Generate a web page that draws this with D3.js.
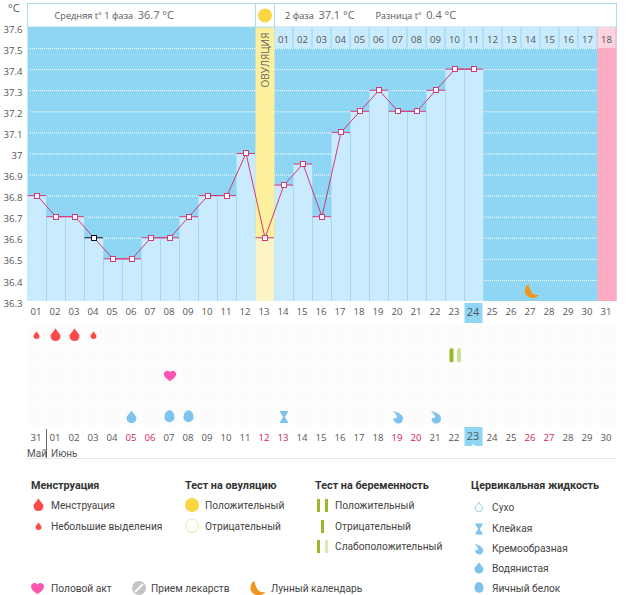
<!DOCTYPE html>
<html>
<head>
<meta charset="utf-8">
<script src="https://d3js.org/d3.v7.min.js"></script>
<style>
  body { margin: 0; background: #fff; }
  svg { display: block; }
  text { font-family: "Open Sans", sans-serif; }
  .lbl { font-size: 9.6px; fill: #555; }
  .lg { font-family: Roboto, sans-serif; font-size: 10.2px; fill: #444; }
  .lgt { font-family: Roboto, sans-serif; font-size: 10.8px; font-weight: 700; fill: #333; }
</style>
</head>
<body>
<svg id="chart" width="626" height="595"></svg>
<script>
// chart data
var cycleDays = d3.range(1, 32);
var temps = [36.8, 36.7, 36.7, 36.6, 36.5, 36.5, 36.6, 36.6, 36.7, 36.8, 36.8, 37.0, 36.6, 36.85, 36.95, 36.7, 37.1, 37.2, 37.3, 37.2, 37.2, 37.3, 37.4, 37.4];
var tempTicks = [37.6, 37.5, 37.4, 37.3, 37.2, 37.1, 37, 36.9, 36.8, 36.7, 36.6, 36.5, 36.4, 36.3];
var calendarDays = ["31", "01", "02", "03", "04", "05", "06", "07", "08", "09", "10", "11", "12", "13", "14", "15", "16", "17", "18", "19", "20", "21", "22", "23", "24", "25", "26", "27", "28", "29", "30"];
var weekendDays = ["05", "06", "12", "13", "19", "20", "26", "27"];
var phase2Days = ["01", "02", "03", "04", "05", "06", "07", "08", "09", "10", "11", "12", "13", "14", "15", "16", "17", "18"];
var ovulationDay = 13, lastCycleDay = 31, currentDay = 24, moonDay = 27, selectedDay = 4;
var heavyDays = [2, 3], spottingDays = [1, 4], sexDays = [8];
var wateryDays = [6], eggWhiteDays = [8, 9], stickyDays = [14], creamyDays = [20, 22];
var weakPregTestDays = [23];

var svg = d3.select("#chart");

var x = d3.scaleBand().domain(cycleDays).range([27.5, 616.5]);
var y = d3.scaleLinear().domain([36.3, 37.6]).range([301, 27]);
var bw = x.bandwidth();
var cx = function(d){ return x(d) + bw / 2; };

/////////////// icons ///////////////
function dropPath(r) {
    return "M0," + (-r * 1.55) + "C" + (r * 0.35) + "," + (-r * 0.8) + " " + r + "," + (-r * 0.45) + " " + r + ",0.1" +
        "A" + r + "," + r + " 0 1 1 " + (-r) + ",0.1C" + (-r) + "," + (-r * 0.45) + " " + (-r * 0.35) + "," + (-r * 0.8) + " 0," + (-r * 1.55) + "Z";
}
function eggPath(r) {
    return "M0," + (-r * 1.35) + "C" + (r * 0.7) + "," + (-r * 1.35) + " " + r + "," + (-r * 0.5) + " " + r + ",0.2" +
        "A" + r + "," + r + " 0 1 1 " + (-r) + ",0.2C" + (-r) + "," + (-r * 0.5) + " " + (-r * 0.7) + "," + (-r * 1.35) + " 0," + (-r * 1.35) + "Z";
}
var heartPath = "M0,6C-3,4 -6.5,1.5 -6.5,-1.5C-6.5,-5 -2,-6.5 0,-3.5C2,-6.5 6.5,-5 6.5,-1.5C6.5,1.5 3,4 0,6Z";
var stickyPath = "M-4,-6H4V-5L0.8,0L4,5V6H-4V5L-0.8,0L-4,-5Z";
var creamyPath = "M-5,-6C-1,-5 5,-3 5,1.5A4.7,4.7 0 1 1 -4.2,0.5C-2.5,2 -0.5,1 -1,-0.5C-1.5,-2.5 -3.5,-4 -5,-6Z";
var moonPath = "M-3,-7.5C-8,-4 -8,3 -3,5.5C1,7.5 5,6.5 7.5,3.5C4,4 1,3 -0.5,0C-2,-3 -2.5,-5 -3,-7.5Z";

function icon(path, px, py, fill, scale) {
    return svg.append("path").attr("d", path)
        .attr("transform", "translate(" + px + "," + py + ") scale(" + (scale || 1) + ")")
        .attr("fill", fill);
}

/////////////// plot background ///////////////
svg.append("rect").attr("x", 27.5).attr("y", 27).attr("width", 589).attr("height", 274).attr("fill", "#8fd6f5");

var gridLines = tempTicks.filter(function(t){ return t < 37.6 && t > 36.3; });
svg.append("g").selectAll("line").data(gridLines).enter().append("line")
    .attr("x1", 30).attr("x2", 616)
    .attr("y1", function(d){ return y(d) + 0.5; }).attr("y2", function(d){ return y(d) + 0.5; })
    .attr("stroke", "#fff").attr("stroke-dasharray", "1,1");

// bars under the temperature line
var barDays = temps.map(function(t, i){ return {day: i + 1, t: t}; });
svg.append("g").selectAll("rect").data(barDays).enter().append("rect")
    .attr("x", function(d){ return x(d.day); })
    .attr("y", function(d){ return y(d.t); })
    .attr("width", bw)
    .attr("height", function(d){ return y(36.3) - y(d.t); })
    .attr("fill", function(d){ return d.day == ovulationDay ? "#fdf4c6" : "#c9ebfd"; });

// ovulation + last day strips
svg.append("rect").attr("x", x(ovulationDay)).attr("y", 27).attr("width", bw).attr("height", y(temps[ovulationDay - 1]) - 27).attr("fill", "#fdf09c");
svg.append("rect").attr("x", x(lastCycleDay)).attr("y", 27).attr("width", bw).attr("height", 274).attr("fill", "#fdabc2");

// faint grid on the bars
svg.append("g").selectAll("line").data(gridLines).enter().append("line")
    .attr("x1", 30).attr("x2", x(lastCycleDay))
    .attr("y1", function(d){ return y(d) + 0.5; }).attr("y2", function(d){ return y(d) + 0.5; })
    .attr("stroke", "#fff").attr("stroke-opacity", 0.15).attr("stroke-dasharray", "1,1");

// column separators
svg.append("g").selectAll("line").data(barDays.filter(function(d){ return d.day != ovulationDay - 1 && d.day != ovulationDay; })).enter().append("line")
    .attr("x1", function(d){ return Math.round(x(d.day) + bw) - 0.5; })
    .attr("x2", function(d){ return Math.round(x(d.day) + bw) - 0.5; })
    .attr("y1", function(d){ return y(d.t); }).attr("y2", 301)
    .attr("stroke", "#a0d8f0");

/////////////// header ///////////////
svg.append("rect").attr("x", 27.5).attr("y", 3.5).attr("width", 589).attr("height", 23.5).attr("fill", "#fff").attr("stroke", "#a9dcee");
svg.append("line").attr("x1", x(ovulationDay)).attr("x2", x(ovulationDay)).attr("y1", 3.5).attr("y2", 27).attr("stroke", "#a9dcee");
svg.append("line").attr("x1", x(ovulationDay) + bw).attr("x2", x(ovulationDay) + bw).attr("y1", 3.5).attr("y2", 27).attr("stroke", "#a9dcee");
svg.append("circle").attr("cx", cx(ovulationDay)).attr("cy", 15.5).attr("r", 7).attr("fill", "#fcd543");

var headerDays = cycleDays.slice(ovulationDay);
svg.append("g").selectAll("rect").data(headerDays).enter().append("rect")
    .attr("x", function(d){ return x(d); }).attr("y", 27)
    .attr("width", bw - 1).attr("height", 21)
    .attr("fill", function(d){ return d == lastCycleDay ? "#fcd3de" : "#c9ebfd"; });
svg.append("g").selectAll("text").data(phase2Days).enter().append("text")
    .attr("class", "lbl")
    .attr("x", function(d, i){ return cx(headerDays[i]) - 0.5; }).attr("y", 43)
    .attr("text-anchor", "middle").text(function(d){ return d; });

svg.append("text").attr("transform", "translate(" + (cx(ovulationDay) + 3.5) + ",60) rotate(-90)")
    .attr("text-anchor", "middle").attr("font-size", 10).attr("fill", "#666").text("ОВУЛЯЦИЯ");

function headerText(px, label, value, size) {
    var t = svg.append("text").attr("x", px).attr("y", 19).attr("fill", "#555").attr("font-size", size);
    t.append("tspan").text(label);
    t.append("tspan").attr("dx", 4.5).attr("font-size", 11).attr("fill", "#666").text(value);
}
headerText(54.5, "Средняя t° 1 фаза", "36.7 °C", 9.2);
headerText(285, "2 фаза", "37.1 °C", 9.2);
headerText(375.5, "Разница t°", "0.4 °C", 9);

/////////////// axes ///////////////
var yAxis = d3.axisLeft(y).tickValues(tempTicks).tickSize(0).tickPadding(0).tickFormat(function(d){ return String(d); });
var yg = svg.append("g").attr("transform", "translate(22.5,2)").call(yAxis);
yg.select(".domain").remove();
yg.selectAll("text").attr("class", "lbl").style("font-family", "Open Sans");
svg.append("text").attr("x", 8).attr("y", 12).attr("font-size", 11).attr("fill", "#555").text("°C");

var xAxis = d3.axisBottom(x).tickSize(0).tickPadding(0).tickFormat(function(d){ return d3.format("02")(d); });
svg.append("rect").attr("x", x(currentDay)).attr("y", 303).attr("width", bw - 1).attr("height", 20).attr("fill", "#8fd6f5");
var xg = svg.append("g").attr("transform", "translate(-1,308)").call(xAxis);
xg.select(".domain").remove();
xg.selectAll("text").attr("class", "lbl").style("font-family", "Open Sans")
    .style("font-size", function(d){ return d == currentDay ? "11px" : null; });

/////////////// temperature line ///////////////
svg.append("g").selectAll("line").data(barDays).enter().append("line")
    .attr("x1", function(d){ return x(d.day); })
    .attr("x2", function(d){ return x(d.day) + bw - 0.5; })
    .attr("y1", function(d){ return y(d.t); }).attr("y2", function(d){ return y(d.t); })
    .attr("stroke", function(d){ return d.day == selectedDay ? "#111" : "#d13a78"; });

var tempLine = d3.line().x(function(d){ return cx(d.day); }).y(function(d){ return y(d.t); });
svg.append("path").attr("d", tempLine(barDays)).attr("fill", "none").attr("stroke", "#d13a78");

svg.append("g").selectAll("rect").data(barDays).enter().append("rect")
    .attr("x", function(d){ return Math.round(cx(d.day)) - 2.5; })
    .attr("y", function(d){ return Math.round(y(d.t)) - 2.5; })
    .attr("width", 5).attr("height", 5)
    .attr("fill", "#fff")
    .attr("stroke", function(d){ return d.day == selectedDay ? "#111" : "#d13a78"; });

icon(moonPath, cx(moonDay) + 0.5, 291.5, "#f0961e");

/////////////// marks area ///////////////
var rows = d3.scalePoint().domain(["menses", "test", "sex", "meds", "fluid"]).range([335, 416]);
var bg = svg.append("g");
cycleDays.forEach(function(d){
    rows.domain().forEach(function(r){
        bg.append("rect").attr("x", x(d) + 0.5).attr("y", rows(r) - 9.5).attr("width", bw - 1).attr("height", 19).attr("fill", "#fcfcfc");
    });
});

heavyDays.forEach(function(d){ icon(dropPath(5), cx(d) - 0.5, rows("menses") + 1, "#fb4a4a"); });
spottingDays.forEach(function(d){ icon(dropPath(3), cx(d) - 0.5, rows("menses") + 1, "#fb4a4a"); });
sexDays.forEach(function(d){ icon(heartPath, cx(d), rows("sex"), "#fc55b2", 0.95); });
wateryDays.forEach(function(d){ icon(dropPath(5), cx(d) - 0.5, rows("fluid") + 2, "#7ec2ee"); });
eggWhiteDays.forEach(function(d){ icon(eggPath(5), cx(d) - 0.5, rows("fluid") + 1, "#7ec2ee"); });
stickyDays.forEach(function(d){ icon(stickyPath, cx(d), rows("fluid") + 1, "#7ec2ee"); });
creamyDays.forEach(function(d){ icon(creamyPath, cx(d), rows("fluid") + 1, "#7ec2ee"); });
weakPregTestDays.forEach(function(d){
    svg.append("rect").attr("x", cx(d) - 5.5).attr("y", rows("test") - 7).attr("width", 4).attr("height", 14).attr("rx", 1.5).attr("fill", "#9ab82a");
    svg.append("rect").attr("x", cx(d) + 2).attr("y", rows("test") - 7).attr("width", 4).attr("height", 14).attr("rx", 1.5).attr("fill", "#cfdc9c");
});

/////////////// calendar row ///////////////
var calX = d3.scaleBand().domain(calendarDays).range([27.5, 616.5]);
var hl = calX("23");
svg.append("path").attr("d", "M" + hl + ",427H" + (hl + 18) + "V446H" + (hl + 11) + "L" + (hl + 9) + ",444L" + (hl + 7) + ",446H" + hl + "Z").attr("fill", "#8fd6f5");
svg.append("g").selectAll("text").data(calendarDays).enter().append("text")
    .attr("class", "lbl")
    .attr("x", function(d){ return calX(d) + bw / 2 - 1; })
    .attr("y", function(d){ return d == "23" ? 440 : 441; })
    .attr("text-anchor", "middle")
    .style("font-size", function(d){ return d == "23" ? "11px" : null; })
    .style("fill", function(d, i){ return i > 0 && weekendDays.indexOf(d) >= 0 ? "#d5205f" : "#555"; })
    .text(function(d){ return d; });

svg.append("line").attr("x1", 46.5).attr("x2", 46.5).attr("y1", 429).attr("y2", 458).attr("stroke", "#666");
svg.append("line").attr("x1", 27).attr("x2", 617).attr("y1", 458.5).attr("y2", 458.5).attr("stroke", "#e8e8e8");
svg.append("text").attr("x", 27).attr("y", 457).style("font-family", "Roboto").attr("font-size", 10).attr("fill", "#555").text("Май");
svg.append("text").attr("x", 51).attr("y", 457).style("font-family", "Roboto").attr("font-size", 10).attr("fill", "#555").text("Июнь");

/////////////// legend ///////////////
function lgTitle(px, py, s){ svg.append("text").attr("class", "lgt").attr("x", px).attr("y", py).text(s); }
function lgText(px, py, s){ svg.append("text").attr("class", "lg").attr("x", px).attr("y", py).text(s); }

lgTitle(31, 489, "Менструация");
icon(dropPath(5), 38.5, 506, "#fb4a4a");
lgText(51, 509, "Менструация");
icon(dropPath(3), 38.5, 527, "#fb4a4a");
lgText(51, 530, "Небольшие выделения");

lgTitle(185, 489, "Тест на овуляцию");
svg.append("circle").attr("cx", 192).attr("cy", 505).attr("r", 7).attr("fill", "#fcd543");
lgText(205, 509, "Положительный");
svg.append("circle").attr("cx", 192).attr("cy", 526).attr("r", 6.5).attr("fill", "#fff").attr("stroke", "#f5e6a5");
lgText(205, 530, "Отрицательный");

lgTitle(315, 489, "Тест на беременность");
function testBars(py, a, b) {
    svg.append("rect").attr("x", 317).attr("y", py - 6).attr("width", 3).attr("height", 13).attr("fill", a);
    svg.append("rect").attr("x", 325).attr("y", py - 6).attr("width", 3).attr("height", 13).attr("fill", b);
}
testBars(505, "#9ab82a", "#9ab82a");
lgText(335, 509, "Положительный");
svg.append("rect").attr("x", 321).attr("y", 520).attr("width", 3).attr("height", 13).attr("fill", "#9ab82a");
lgText(335, 530, "Отрицательный");
testBars(546, "#9ab82a", "#dbe6b4");
lgText(335, 550, "Слабоположительный");

lgTitle(471, 489, "Цервикальная жидкость");
svg.append("path").attr("d", dropPath(3.7)).attr("transform", "translate(479,508)").attr("fill", "#fff").attr("stroke", "#9ccfea");
lgText(492, 511, "Сухо");
icon(stickyPath, 479, 529, "#7ec2ee", 0.9);
lgText(492, 532, "Клейкая");
icon(creamyPath, 479, 549, "#7ec2ee", 0.85);
lgText(492, 552, "Кремообразная");
icon(dropPath(4.5), 479, 569, "#7ec2ee");
lgText(492, 572, "Водянистая");
icon(eggPath(4.5), 479, 588, "#7ec2ee");
lgText(492, 592, "Яичный белок");

icon(heartPath, 37.5, 588, "#fc55b2", 1);
lgText(51, 592, "Половой акт");
svg.append("circle").attr("cx", 139).attr("cy", 588).attr("r", 7).attr("fill", "#c4c4c4");
svg.append("line").attr("x1", 135).attr("x2", 143).attr("y1", 592).attr("y2", 584).attr("stroke", "#fff").attr("stroke-width", 1.8);
lgText(151, 592, "Прием лекарств");
icon(moonPath, 257.5, 588.5, "#f0961e", 1.05);
lgText(271, 592, "Лунный календарь");
</script>
</body>
</html>
